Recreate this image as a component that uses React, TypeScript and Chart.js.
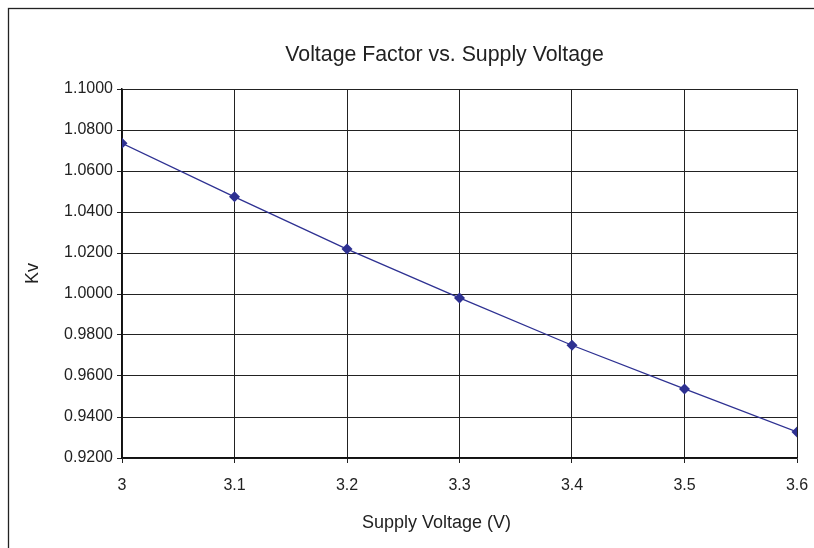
import React, { useEffect, useRef } from "react";
import { Chart, registerables } from "chart.js";

Chart.register(...registerables);

const supplyVoltage: number[] = [3.0, 3.1, 3.2, 3.3, 3.4, 3.5, 3.6];
const kvValues: number[] = [1.0735, 1.0474, 1.0219, 0.9981, 0.975, 0.9537, 0.9327];
const titleText = "Voltage Factor vs. Supply Voltage";
const xTitle = "Supply Voltage (V)";
const yTitle = "Kv";

const FONT = "'Liberation Sans', Arial, sans-serif";
const TEXT = "#222";
const LINE = "#2E3192";

const framePlugin = {
  id: "frame",
  beforeDraw(chart: any) {
    const ctx = chart.ctx;
    ctx.save();
    ctx.fillStyle = "#fff";
    ctx.fillRect(0, 0, chart.width, chart.height);
    ctx.strokeStyle = "#222";
    ctx.lineWidth = 1.3;
    ctx.strokeRect(8.5, 8.5, chart.width + 20, chart.height + 20);
    ctx.restore();
  },
  afterDraw(chart: any) {
    const ctx = chart.ctx;
    const a = chart.chartArea;
    ctx.save();
    ctx.fillStyle = TEXT;
    ctx.textAlign = "center";
    ctx.textBaseline = "middle";
    ctx.font = `21.3px ${FONT}`;
    ctx.fillText(titleText, a.left + 322.5, a.top - 34);
    ctx.font = `18px ${FONT}`;
    ctx.fillText(xTitle, a.left + 314.5, a.bottom + 65);
    ctx.restore();
  },
};

export default function App() {
  const ref = useRef<HTMLCanvasElement | null>(null);
  useEffect(() => {
    if (!ref.current) return;
    const chart = new Chart(ref.current, {
      type: "line",
      data: {
        datasets: [
          {
            data: supplyVoltage.map((x, i) => ({ x, y: kvValues[i] })),
            borderColor: LINE,
            backgroundColor: LINE,
            borderWidth: 1.3,
            pointStyle: "rectRot",
            pointRadius: 5.5,
            pointBorderWidth: 0,
            pointBackgroundColor: LINE,
            tension: 0,
          },
        ],
      },
      options: {
        responsive: false,
        animation: false,
        devicePixelRatio: 1,
        layout: { padding: { left: 10, top: 89, right: 17, bottom: 0 } },
        plugins: {
          legend: { display: false },
          tooltip: { enabled: false },
          title: { display: false },
        },
        scales: {
          x: {
            type: "linear",
            min: 3,
            max: 3.6,
            afterFit: (s: any) => {
              s.height = 90;
              s.paddingRight = 0;
              s.paddingLeft = 0;
            },
            ticks: {
              stepSize: 0.1,
              color: TEXT,
              padding: 13,
              maxRotation: 0,
              font: { family: FONT, size: 16 },
              callback: (v: any) => String(Math.round(Number(v) * 10) / 10),
            },
            grid: { color: "#222", lineWidth: 1, tickLength: 5, tickColor: "#222" },
            border: { display: true, color: "#111", width: 1.5 },
          },
          y: {
            min: 0.92,
            max: 1.1,
            afterFit: (s: any) => {
              s.width = 112;
              s.paddingTop = 0;
              s.paddingBottom = 0;
            },
            ticks: {
              stepSize: 0.02,
              color: TEXT,
              padding: 4,
              font: { family: FONT, size: 16 },
              callback: (v: any) => Number(v).toFixed(4),
            },
            grid: { color: "#222", lineWidth: 1, tickLength: 5, tickColor: "#222" },
            border: { display: true, color: "#111", width: 1.5 },
            title: {
              display: true,
              text: yTitle,
              color: TEXT,
              font: { family: FONT, size: 18 },
              padding: { top: 12, bottom: 0 },
            },
          },
        },
      },
      plugins: [framePlugin],
    });
    return () => chart.destroy();
  }, []);
  return (
    <div style={{ position: "fixed", left: 0, top: 0, width: 814, height: 548 }}>
      <canvas ref={ref} width={814} height={548} style={{ display: "block" }} />
    </div>
  );
}
